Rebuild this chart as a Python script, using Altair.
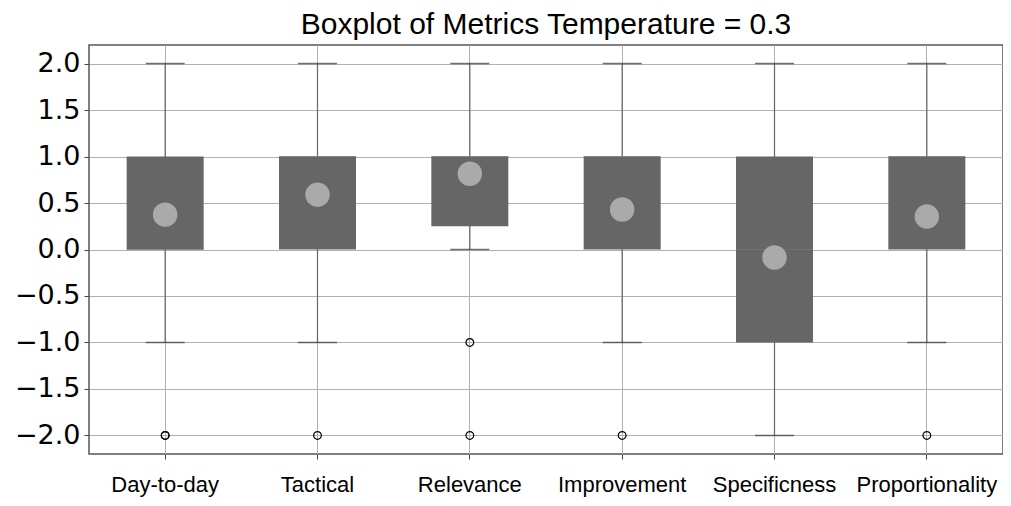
import altair as alt
import pandas as pd

categories = ["Day-to-day", "Tactical", "Relevance", "Improvement", "Specificness", "Proportionality"]
q1 = [0.0, 0.0, 0.25, 0.0, -1.0, 0.0]
q3 = [1.0, 1.0, 1.0, 1.0, 1.0, 1.0]
median = [0.0, 1.0, 1.0, 1.0, 0.0, 1.0]
whisker_lo = [-1.0, -1.0, 0.0, -1.0, -2.0, -1.0]
whisker_hi = [2.0, 2.0, 2.0, 2.0, 2.0, 2.0]
means = [0.375, 0.59, 0.815, 0.43, -0.086, 0.354]
outlier_cat = ["Day-to-day", "Day-to-day", "Tactical", "Relevance", "Relevance", "Improvement", "Proportionality"]
outlier_val = [-2.0, -2.0, -2.0, -1.0, -2.0, -2.0, -2.0]

df = pd.DataFrame({
    "cat": categories, "q1": q1, "q3": q3, "med": median,
    "lo": whisker_lo, "hi": whisker_hi, "mean": means,
})
odf = pd.DataFrame({"cat": outlier_cat, "val": outlier_val})

yscale = alt.Scale(domain=[-2.2, 2.2], nice=False, zero=False)
xenc = alt.X("cat:N", sort=categories, title=None,
             scale=alt.Scale(paddingInner=0, paddingOuter=0),
             axis=alt.Axis(labelAngle=0, grid=True, gridColor="#b0b0b0", gridWidth=1,
                           labelFont="Liberation Sans", labelFontSize=22, labelColor="black",
                           labelPadding=15, tickSize=5, tickColor="#444", domain=False))
yaxis = alt.Axis(values=[-2, -1.5, -1, -0.5, 0, 0.5, 1, 1.5, 2], format=".1f",
                 grid=True, gridColor="#b0b0b0", gridWidth=1,
                 labelFont="DejaVu Sans", labelFontSize=27, labelColor="black",
                 labelPadding=4, tickSize=5, tickColor="#444", domain=False)

base = alt.Chart(df)
whisk = base.mark_rule(color="#666666", strokeWidth=1.2).encode(
    x=xenc, y=alt.Y("lo:Q", scale=yscale, axis=yaxis, title=None), y2="hi:Q")
cap_lo = base.mark_tick(color="#333333", size=39, thickness=1.5).encode(
    x=alt.X("cat:N", sort=categories), y=alt.Y("lo:Q"))
cap_hi = base.mark_tick(color="#333333", size=39, thickness=1.5).encode(
    x=alt.X("cat:N", sort=categories), y=alt.Y("hi:Q"))
box = base.mark_bar(color="#666666", size=77).encode(
    x=alt.X("cat:N", sort=categories), y=alt.Y("q1:Q"), y2="q3:Q")
med = base.mark_tick(color="#777777", size=77, thickness=1).encode(
    x=alt.X("cat:N", sort=categories), y=alt.Y("med:Q"))
mean_pt = base.mark_point(shape="circle", filled=True, color="#aaaaaa", size=600, opacity=1).encode(
    x=alt.X("cat:N", sort=categories), y=alt.Y("mean:Q"))
outl = alt.Chart(odf).mark_point(shape="circle", filled=False, color="black", size=60,
                                 strokeWidth=1.2, opacity=1).encode(
    x=alt.X("cat:N", sort=categories), y=alt.Y("val:Q"))

chart = alt.layer(whisk, cap_lo, cap_hi, box, med, mean_pt, outl).properties(
    width=914, height=409,
    background="white",
    title=alt.TitleParams("Boxplot of Metrics Temperature = 0.3", font="Liberation Sans",
                          fontSize=30, fontWeight="normal", color="black", offset=5),
    autosize=alt.AutoSizeParams(type="none"),
    padding={"left": 81, "top": 37, "right": 0, "bottom": 44},
).configure_view(stroke="#555555", strokeWidth=1.5)

chart.save("out.html", embed_options={"renderer": "svg", "actions": False})
